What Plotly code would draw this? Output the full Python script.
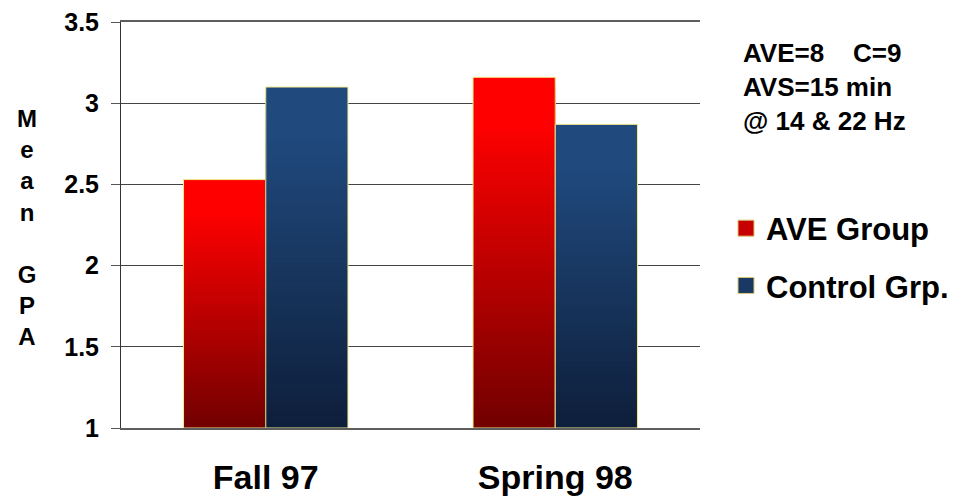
import numpy as np
import plotly.graph_objects as go

# ---- data ----
categories = ["Fall 97", "Spring 98"]
ave_group = [2.53, 3.16]
control_grp = [3.10, 2.87]
series_names = ["AVE Group", "Control Grp."]
y_ticks = [1, 1.5, 2, 2.5, 3, 3.5]
y_title_letters = ["M", "e", "a", "n", "\u00a0", "G", "P", "A"]
note_lines = ["AVE=8\u00a0\u00a0\u00a0\u00a0C=9", "AVS=15 min", "@ 14 & 22 Hz"]

BASE = 1.0
N = 60
FONT = "Liberation Sans, Arial, sans-serif"
PAGE_OFF = 8  # default body margin of the html page

def lerp(c0, c1, t):
    return "rgb(%d,%d,%d)" % tuple(int(round(a + (b - a) * t)) for a, b in zip(c0, c1))

red_top, red_bot = (255, 0, 0), (112, 0, 0)
blue_top, blue_bot = (32, 74, 126), (14, 30, 58)

fig = go.Figure()
W = 0.284

def add_gradient(values, top, bot, offset, name):
    vals = np.array(values) - BASE
    for k in range(N):
        frac = (N - k) / N  # top of this overlay, as fraction of bar
        t = 1 - min(1.0, frac / 0.88)
        fig.add_trace(go.Bar(
            x=categories, y=vals * frac, base=BASE,
            offset=offset, width=W,
            marker=dict(color=lerp(top, bot, t), line=dict(width=0)),
            showlegend=False, hoverinfo="skip"))
    fig.add_trace(go.Bar(
        x=categories, y=vals, base=BASE, offset=offset, width=W,
        marker=dict(color="rgba(0,0,0,0)", line=dict(color="#f2eb8a", width=1)),
        showlegend=False, name=name))

add_gradient(ave_group, red_top, red_bot, -W, series_names[0])
add_gradient(control_grp, blue_top, blue_bot, 0, series_names[1])

# legend entries
for nm, col, grp in [(series_names[0], lerp(red_top, red_bot, 0.4), "a"),
                     (series_names[1], lerp(blue_top, blue_bot, 0.4), "b")]:
    fig.add_trace(go.Scatter(
        x=[None], y=[None], mode="markers", name=nm, legendgroup=grp,
        marker=dict(symbol="square", size=16, color=col,
                    line=dict(color="#d8c870", width=1))))

Y_LO, Y_HI = 1.0, 3.5005

# plot area in page pixels
PL, PR, PT, PB = 121, 700, 22, 428
pw, ph = PR - PL, PB - PT

def px(x):
    return (x - PL) / pw

def py(y):
    return (PB - y) / ph

# vertical y-axis title
fig.add_annotation(x=px(27), y=py(228), xref="paper", yref="paper",
                   text="<br>".join(y_title_letters), showarrow=False,
                   xanchor="center", yanchor="middle", align="center",
                   font=dict(family=FONT, size=24, color="black", weight="bold"))

fig.add_annotation(x=px(741), y=py(36), xref="paper", yref="paper",
                   text="<br>".join(note_lines), showarrow=False,
                   xanchor="left", yanchor="top", align="left",
                   font=dict(family=FONT, size=26, color="black", weight="bold"))

fig.update_layout(
    width=963 - PAGE_OFF, height=497 - PAGE_OFF,
    margin=dict(l=PL - PAGE_OFF, r=963 - PR, t=PT - PAGE_OFF, b=497 - PB, autoexpand=False),
    paper_bgcolor="white", plot_bgcolor="white",
    barmode="overlay",
    legend=dict(x=px(726), y=py(257), xanchor="left", yanchor="middle",
                font=dict(family=FONT, size=31, color="black", weight="bold"),
                traceorder="grouped", tracegroupgap=14,
                bgcolor="rgba(0,0,0,0)"),
    xaxis=dict(type="category", range=[-0.5, 1.5], showgrid=False, automargin=False,
               showline=True, mirror=True, linecolor="#5e5e5e", linewidth=1.6, ticks="",
               tickfont=dict(family=FONT, size=34, color="black", weight="bold"),
               ticklabelstandoff=18),
    yaxis=dict(range=[Y_LO, Y_HI], tickvals=y_ticks, showgrid=True, automargin=False,
               gridcolor="#444444", gridwidth=1.3,
               showline=True, linecolor="#333333", linewidth=1,
               ticks="outside", ticklen=9, tickcolor="#555555",
               zeroline=False, ticklabelstandoff=7, ticklabeloverflow="allow",
               tickfont=dict(family=FONT, size=25, color="black", weight="bold")),
)

fig.write_html("out.html")
